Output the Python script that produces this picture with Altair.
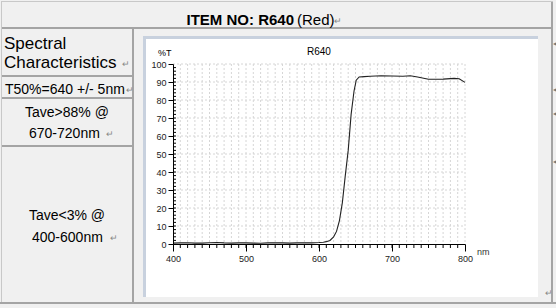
import altair as alt
import pandas as pd

# ---- data ----
wavelength = [400, 410, 420, 430, 440, 450, 460, 470, 480, 490, 500, 510, 520, 530, 540, 550,
              560, 570, 580, 590, 600, 606, 610, 615, 620, 624, 628, 632, 636, 640, 644, 648,
              651, 655, 662, 670, 685, 700, 715, 725, 735, 750, 770, 785, 792, 800]
transmission = [0.5, 0.6, 0.7, 0.5, 0.5, 0.7, 0.8, 0.6, 0.5, 0.6, 0.6, 0.5, 0.4, 0.6, 0.7, 0.6,
                0.5, 0.6, 0.6, 0.6, 0.8, 1.0, 1.3, 2.0, 4.0, 7.0, 13.0, 23.0, 38.0, 52.0, 72.0, 85.0,
                91.0, 92.8, 93.0, 93.2, 93.5, 93.3, 93.2, 93.5, 92.8, 91.5, 91.6, 92.0, 91.8, 89.8]
x_major = [400, 500, 600, 700, 800]
y_major = [0, 10, 20, 30, 40, 50, 60, 70, 80, 90, 100]
x_grid = list(range(410, 801, 10))
y_grid = list(range(10, 101, 10))
x_minor = list(range(410, 800, 10))
y_minor = list(range(2, 100, 2))

curve = pd.DataFrame({"nm": wavelength, "T": transmission})

OX, OY = 173, 64          # plot origin inside the 556x308 page
W, H = 292, 180
one = alt.Data(values=[{"k": 1}])
FONT = "Liberation Sans"

xs = alt.Scale(domain=[400, 800], nice=False)
ys = alt.Scale(domain=[0, 100], nice=False)

xaxis = alt.Axis(
    values=x_major, title=None, grid=False, tickSize=7, tickColor="#000000",
    domainColor="#000000", labelFont=FONT, labelFontSize=9, labelColor="#222222",
    labelPadding=3, zindex=1, labelFlush=False)
yaxis = alt.Axis(
    values=y_major, title=None, grid=False, tickSize=5, tickColor="#000000",
    domainColor="#000000", labelFont=FONT, labelFontSize=9, labelColor="#222222",
    labelPadding=2, zindex=1, labelFlush=False)


def rect(x1, y1, x2, y2, color):
    return alt.Chart(one).mark_rect(color=color).encode(
        x=alt.value(x1 - OX), x2=alt.value(x2 - OX),
        y=alt.value(y1 - OY), y2=alt.value(y2 - OY))


def text(s, x, y, size=14, weight="normal", align="left", color="#000000", baseline="alphabetic"):
    return alt.Chart(one).mark_text(
        font=FONT, fontSize=size, fontWeight=weight, align=align,
        baseline=baseline, color=color).encode(
        x=alt.value(x - OX), y=alt.value(y - OY), text=alt.value(s))


LINE = "#a4a4a4"
deco = [
    rect(146 - 3, 36, 538, 297, "#c8d1de"),
    rect(146, 39, 538, 297, "#ffffff"),
    rect(1, 1, 553, 2, "#c8c8c8"),
    rect(1, 1, 2, 304, "#c8c8c8"),
    rect(2, 27, 552, 29, LINE),
    rect(132, 28, 134, 303, LINE),
    rect(2, 75, 133, 77, LINE),
    rect(2, 97, 133, 99, LINE),
    rect(2, 145, 133, 147, LINE),
    rect(0, 302, 556, 304, LINE),
    rect(551, 2, 553, 304, LINE),
    text("ITEM NO: R640", 294, 25, size=15, weight="bold", align="right"),
    text("(Red)", 297, 25, size=15),
    text("\u21b5", 334, 24, size=9, color="#888888"),
    text("Spectral", 4, 49, size=17),
    text("Characteristics", 4, 68, size=17),
    text("\u21b5", 122, 67, size=9, color="#888888"),
    text("T50%=640 +/- 5nm", 5, 94, size=14),
    text("\u21b5", 126, 93, size=9, color="#888888"),
    text("Tave>88% @", 25, 117, size=14),
    text("670-720nm", 29, 138, size=14),
    text("\u21b5", 106, 137, size=9, color="#888888"),
    text("Tave<3% @", 29, 220, size=14),
    text("400-600nm", 32, 242, size=14),
    text("\u21b5", 110, 241, size=9, color="#888888"),
    text("\u25c2", 553, 46, size=8, color="#777777"),
    text("\u25c2", 553, 92, size=8, color="#777777"),
    text("\u25c2", 553, 116, size=8, color="#777777"),
    text("\u25c2", 553, 164, size=8, color="#777777"),
    text("\u21b5", 545, 296, size=9, color="#888888"),
    text("%T", 158, 56, size=9),
    text("R640", 307, 55, size=10),
    text("nm", 477, 255, size=9, color="#333333"),
]

dash = [2, 2]
gx = alt.Chart(pd.DataFrame({"nm": x_grid})).mark_rule(
    color="#d6d6d6", strokeDash=dash, strokeWidth=1).encode(
    x=alt.X("nm:Q", scale=xs, axis=xaxis), y=alt.value(0), y2=alt.value(H))
gy = alt.Chart(pd.DataFrame({"T": y_grid})).mark_rule(
    color="#d6d6d6", strokeDash=dash, strokeWidth=1).encode(
    y=alt.Y("T:Q", scale=ys, axis=yaxis), x=alt.value(0), x2=alt.value(W))
mx = alt.Chart(pd.DataFrame({"nm": x_minor})).mark_rule(color="#000000", strokeWidth=1).encode(
    x=alt.X("nm:Q", scale=xs, axis=xaxis), y=alt.value(H), y2=alt.value(H + 4))
my = alt.Chart(pd.DataFrame({"T": y_minor})).mark_rule(color="#000000", strokeWidth=1).encode(
    y=alt.Y("T:Q", scale=ys, axis=yaxis), x=alt.value(0), x2=alt.value(3))

line = alt.Chart(curve).mark_line(color="#222222", strokeWidth=1.1).encode(
    x=alt.X("nm:Q", scale=xs, axis=xaxis),
    y=alt.Y("T:Q", scale=ys, axis=yaxis),
)

chart = alt.layer(*deco, gx, gy, mx, my, line).properties(
    width=W, height=H,
    padding={"left": OX, "top": OY, "right": 556 - OX - W, "bottom": 308 - OY - H},
    autosize=alt.AutoSizeParams(type="none"),
    background="#f0f0f0",
).configure_view(stroke=None)

chart.save("out.html", embed_options={"renderer": "svg", "actions": False})
